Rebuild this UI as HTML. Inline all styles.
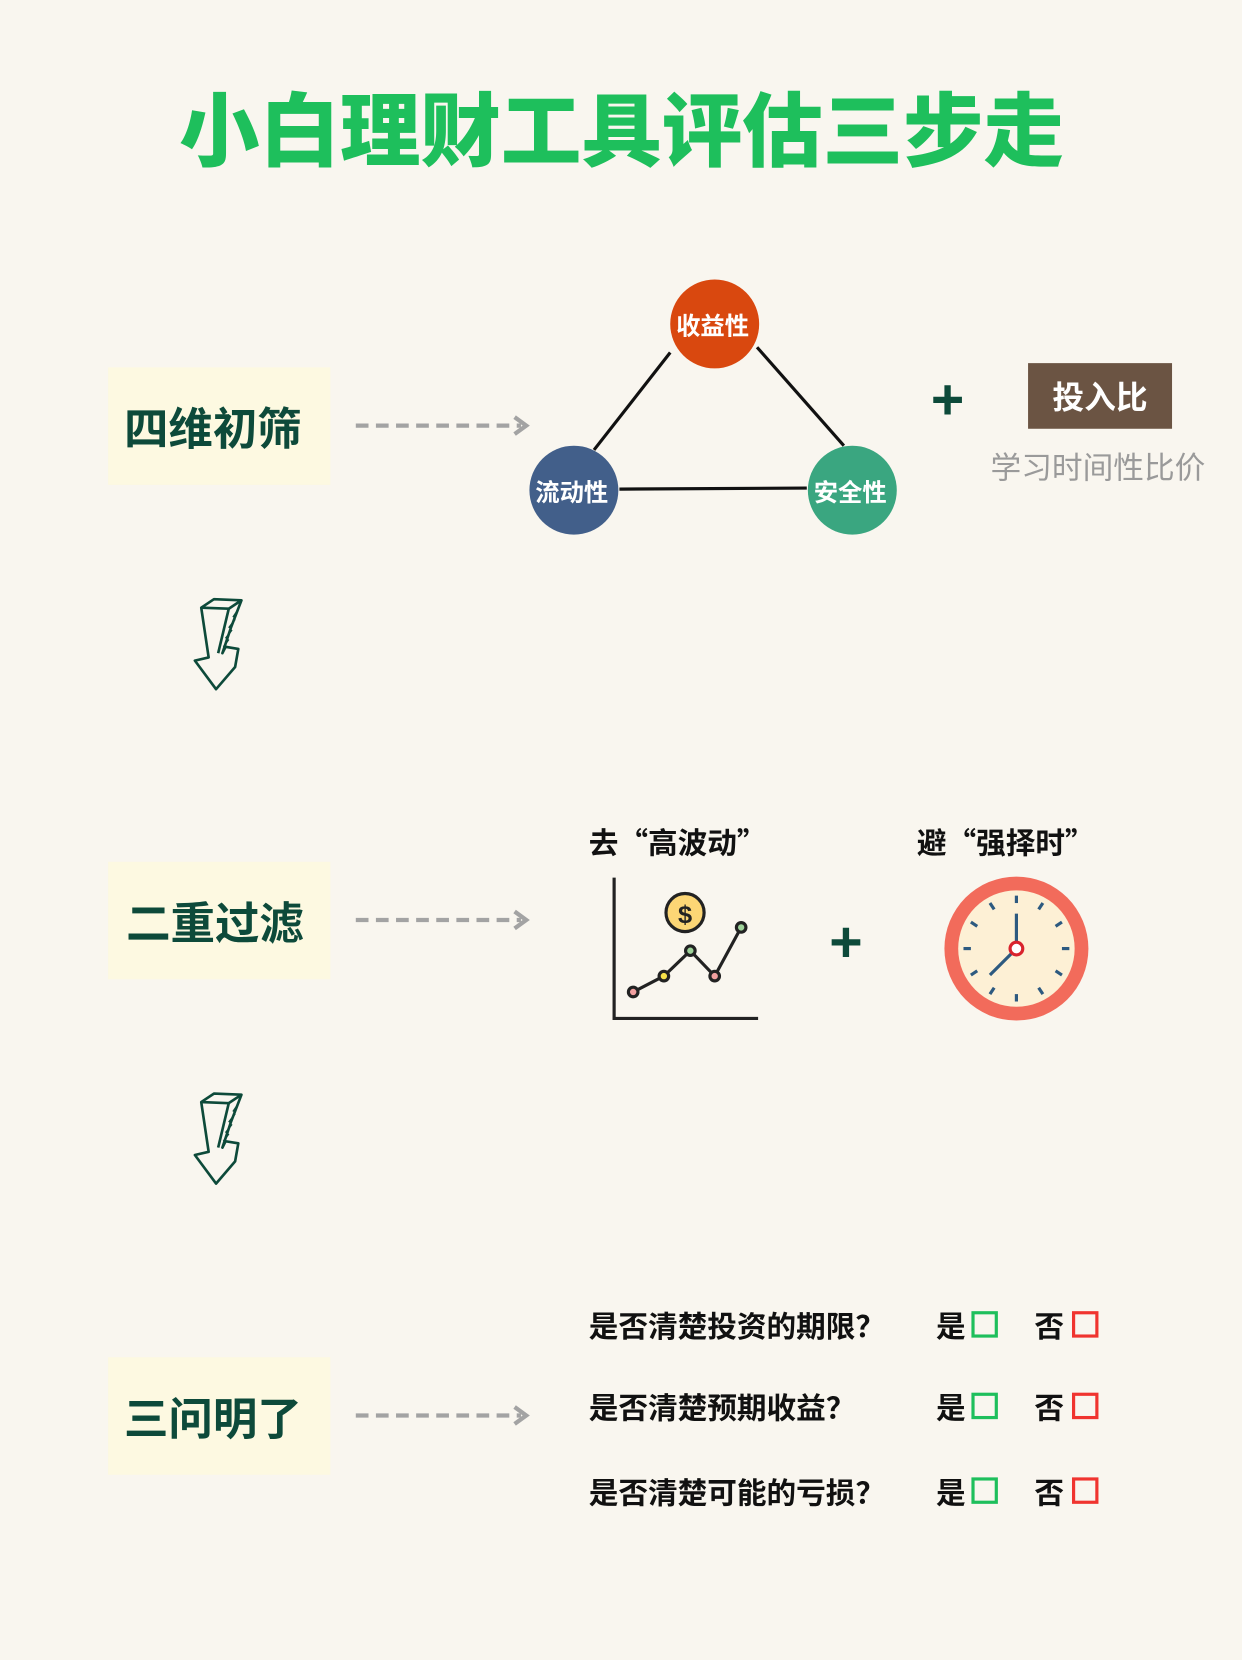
<!DOCTYPE html>
<html><head><meta charset="utf-8"><style>
html,body{margin:0;padding:0;background:#f9f6ef;}
svg{display:block;}
text{font-family:"Liberation Sans","Noto Sans CJK SC",sans-serif;font-weight:700;}
text.cjk{font-family:"Noto Sans CJK SC",sans-serif;}
</style></head><body>
<svg width="1242" height="1660" viewBox="0 0 1173 1568" xmlns="http://www.w3.org/2000/svg">
<rect width="1173" height="1568" fill="#f9f6ef"/>
<text x="587" y="151" font-size="76" fill="#1ebf5c" text-anchor="middle" style="font-weight:900">小白理财工具评估三步走</text>

<defs>
<g id="dash">
<line x1="336" y1="0" x2="492" y2="0" stroke="#a3a3a3" stroke-width="4" stroke-dasharray="12 7"/>
<polyline points="486,-8 497,0 486,8" fill="none" stroke="#a3a3a3" stroke-width="4"/>
</g>
<g id="harrow" fill="none" stroke="#0d4a3a" stroke-width="2.5" stroke-linejoin="round">
<path d="M190,574 L202,566 L228,567 L218,593 L210,617 L213,611 L225,613 L222,630 L204,651 L184,624 L197,621 L190,574 Z"/>
<path d="M190,574 L216,575 L228,567"/>
<path d="M216,575 L206,617"/>
<path d="M220,583 L224,577 M216,593 L222,585 M213,603 L219,595 M211,611 L216,604" stroke-width="1.5"/>
</g>
</defs>

<rect x="102" y="347" width="210" height="111" fill="#fdf9e1"/>
<text x="201" y="420" font-size="42" fill="#0d4a3a" text-anchor="middle">四维初筛</text>
<use href="#dash" transform="translate(0,402)"/>

<line x1="633" y1="333" x2="561" y2="425" stroke="#111" stroke-width="3"/>
<line x1="715" y1="328" x2="797" y2="421" stroke="#111" stroke-width="3"/>
<line x1="585" y1="462" x2="762" y2="461" stroke="#111" stroke-width="3"/>
<circle cx="675" cy="306" r="42" fill="#d9480f"/>
<circle cx="542" cy="463" r="42" fill="#425f8a"/>
<circle cx="805" cy="463" r="42" fill="#3aa680"/>
<text x="673" y="316" font-size="23" fill="#fff" text-anchor="middle">收益性</text>
<text x="540" y="473" font-size="23" fill="#fff" text-anchor="middle">流动性</text>
<text x="803" y="473" font-size="23" fill="#fff" text-anchor="middle">安全性</text>

<text x="895" y="396" font-size="54" fill="#0d4a3a" text-anchor="middle">+</text>
<rect x="971" y="343" width="136" height="62" fill="#6b5443"/>
<text x="1039" y="386" font-size="30" fill="#fff" text-anchor="middle">投入比</text>
<text x="1037" y="452" font-size="29" fill="#9a9a9a" text-anchor="middle" style="font-weight:400">学习时间性比价</text>

<use href="#harrow"/>

<rect x="102" y="814" width="210" height="111" fill="#fdf9e1"/>
<text x="203" y="887" font-size="42" fill="#0d4a3a" text-anchor="middle">二重过滤</text>
<use href="#dash" transform="translate(0,869)"/>

<text class="cjk" x="556" y="806" font-size="28" fill="#111">去“高波动”</text>
<text class="cjk" x="866" y="806" font-size="28" fill="#111">避“强择时”</text>

<polyline points="580,829 580,962 716,962" fill="none" stroke="#222" stroke-width="3"/>
<polyline points="598,937 627,922 652,898 675,922 700,876" fill="none" stroke="#222" stroke-width="3"/>
<g stroke="#222" stroke-width="3"><circle cx="598" cy="937" r="4.5" fill="#f2a0a0"/><circle cx="627" cy="922" r="4.5" fill="#f5e04a"/><circle cx="652" cy="898" r="4.5" fill="#9fd39a"/><circle cx="675" cy="922" r="4.5" fill="#f2a0a0"/><circle cx="700" cy="876" r="4.5" fill="#9fd39a"/></g>
<circle cx="647" cy="862" r="18" fill="#fcd675" stroke="#222" stroke-width="3"/>
<text x="647" y="872" font-size="24" fill="#222" text-anchor="middle">$</text>

<text x="799" y="908" font-size="54" fill="#0d4a3a" text-anchor="middle">+</text>

<circle cx="960" cy="896" r="68" fill="#f26b5b"/>
<circle cx="960" cy="896" r="55" fill="#fdf0d5"/>
<g stroke="#2d5a80" stroke-width="3">
<line x1="960" y1="846" x2="960" y2="853"/><line x1="960" y1="939" x2="960" y2="946"/>
<line x1="910" y1="896" x2="917" y2="896"/><line x1="1003" y1="896" x2="1010" y2="896"/>
<line x1="985" y1="853" x2="981" y2="859"/><line x1="1003" y1="871" x2="997" y2="875"/>
<line x1="1003" y1="921" x2="997" y2="917"/><line x1="985" y1="939" x2="981" y2="933"/>
<line x1="935" y1="853" x2="939" y2="859"/><line x1="917" y1="871" x2="923" y2="875"/>
<line x1="917" y1="921" x2="923" y2="917"/><line x1="935" y1="939" x2="939" y2="933"/>
<line x1="960" y1="863" x2="960" y2="893"/><line x1="955" y1="901" x2="935" y2="921"/>
</g>
<circle cx="960" cy="896" r="6" fill="#fff" stroke="#d9232d" stroke-width="3"/>

<use href="#harrow" transform="translate(0,467)"/>

<rect x="102" y="1282" width="210" height="111" fill="#fdf9e1"/>
<text x="201" y="1355" font-size="42" fill="#0d4a3a" text-anchor="middle">三问明了</text>
<use href="#dash" transform="translate(0,1337)"/>

<g font-size="28" fill="#111">
<text class="cjk" x="556" y="1263">是否清楚投资的期限？</text>
<text class="cjk" x="556" y="1340">是否清楚预期收益？</text>
<text class="cjk" x="556" y="1420">是否清楚可能的亏损？</text>
<text x="884" y="1263">是</text><text x="977" y="1263">否</text>
<text x="884" y="1340">是</text><text x="977" y="1340">否</text>
<text x="884" y="1420">是</text><text x="977" y="1420">否</text>
</g>
<g fill="none" stroke-width="3">
<rect x="919" y="1240" width="22" height="22" stroke="#1ebf5c"/><rect x="1014" y="1240" width="22" height="22" stroke="#f0342f"/>
<rect x="919" y="1317" width="22" height="22" stroke="#1ebf5c"/><rect x="1014" y="1317" width="22" height="22" stroke="#f0342f"/>
<rect x="919" y="1397" width="22" height="22" stroke="#1ebf5c"/><rect x="1014" y="1397" width="22" height="22" stroke="#f0342f"/>
</g>
</svg>
</body></html>
